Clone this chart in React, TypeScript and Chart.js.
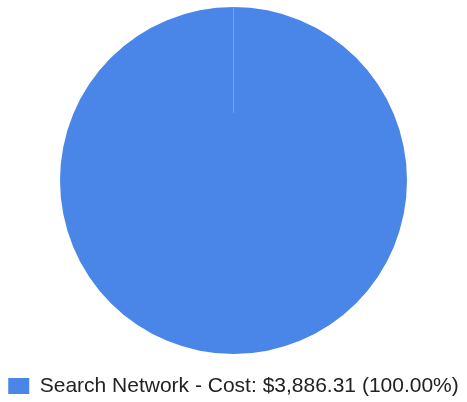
import React, { useEffect, useRef } from "react";
import { Chart, registerables } from "chart.js";

Chart.register(...registerables);

const categories: string[] = ["Search Network - Cost: $3,886.31 (100.00%)"];
const costValues: number[] = [3886.31];
const sliceColors: string[] = ["#4a86e8"];

const seamPlugin = {
  id: "seam",
  afterDatasetsDraw(chart: any) {
    const arc = chart.getDatasetMeta(0).data[0];
    if (!arc) return;
    const { x, y, outerRadius } = arc.getProps(["x", "y", "outerRadius"], true);
    const ctx = chart.ctx;
    ctx.save();
    ctx.strokeStyle = "rgba(255,255,255,0.22)";
    ctx.lineWidth = 1;
    ctx.beginPath();
    ctx.moveTo(Math.round(x) - 0.5, y - outerRadius);
    ctx.lineTo(Math.round(x) - 0.5, y - outerRadius * 0.39);
    ctx.stroke();
    ctx.restore();
  },
};

export default function App() {
  const canvasRef = useRef<HTMLCanvasElement | null>(null);

  useEffect(() => {
    if (!canvasRef.current) return;
    const chart = new Chart(canvasRef.current, {
      type: "pie",
      data: {
        labels: categories,
        datasets: [
          {
            data: costValues,
            backgroundColor: sliceColors,
            borderWidth: 0,
          },
        ],
      },
      options: {
        responsive: false,
        animation: false,
        layout: { padding: { top: 7, bottom: -4.5, left: 0, right: 0 } },
        plugins: {
          tooltip: { enabled: false },
          legend: {
            position: "bottom",
            labels: {
              boxWidth: 21,
              boxHeight: 16,
              padding: 21.5,
              color: "#222222",
              font: { family: "'Liberation Sans', Arial, sans-serif", size: 21 },
            },
          },
        },
      },
      plugins: [seamPlugin],
    });
    return () => chart.destroy();
  }, []);

  return (
    <div style={{ position: "absolute", left: 0, top: 0, width: 467, height: 402, background: "#fff" }}>
      <canvas ref={canvasRef} width={467} height={402} />
    </div>
  );
}
